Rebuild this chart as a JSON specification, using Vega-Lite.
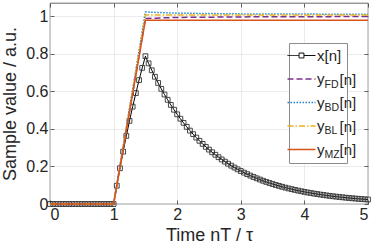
{
  "$schema": "https://vega.github.io/schema/vega-lite/v6.json",
  "width": 318,
  "height": 201,
  "autosize": {"type": "none"},
  "padding": {"left": 50, "top": 3, "right": 6, "bottom": 45},
  "config": {
    "font": "Liberation Sans",
    "view": {"stroke": "#262626", "strokeWidth": 0.7},
    "axis": {
      "labelColor": "#262626", "titleColor": "#262626", "tickColor": "#262626",
      "domain": false, "gridColor": "#e3e3e3", "gridWidth": 0.7,
      "labelFont": "Liberation Sans", "titleFont": "Liberation Sans",
      "labelFontSize": 16, "titleFontSize": 18, "titleFontWeight": "normal",
      "tickSize": -4, "tickWidth": 0.7
    }
  },
  "datasets": {
    "d": [
      {"s": "x", "t": 0, "v": 0}, {"s": "x", "t": 0.05, "v": 0}, {"s": "x", "t": 0.1, "v": 0}, {"s": "x", "t": 0.15, "v": 0},
      {"s": "x", "t": 0.2, "v": 0}, {"s": "x", "t": 0.25, "v": 0}, {"s": "x", "t": 0.3, "v": 0}, {"s": "x", "t": 0.35, "v": 0},
      {"s": "x", "t": 0.4, "v": 0}, {"s": "x", "t": 0.45, "v": 0}, {"s": "x", "t": 0.5, "v": 0}, {"s": "x", "t": 0.55, "v": 0},
      {"s": "x", "t": 0.6, "v": 0}, {"s": "x", "t": 0.65, "v": 0}, {"s": "x", "t": 0.7, "v": 0}, {"s": "x", "t": 0.75, "v": 0},
      {"s": "x", "t": 0.8, "v": 0}, {"s": "x", "t": 0.85, "v": 0}, {"s": "x", "t": 0.9, "v": 0}, {"s": "x", "t": 0.95, "v": 0},
      {"s": "x", "t": 1, "v": 0},
      {"s": "x", "t": 1.05, "v": 0.0975}, {"s": "x", "t": 1.1, "v": 0.1903}, {"s": "x", "t": 1.15, "v": 0.2786},
      {"s": "x", "t": 1.2, "v": 0.3625}, {"s": "x", "t": 1.25, "v": 0.4424}, {"s": "x", "t": 1.3, "v": 0.5184},
      {"s": "x", "t": 1.35, "v": 0.5906}, {"s": "x", "t": 1.4, "v": 0.6594}, {"s": "x", "t": 1.45, "v": 0.7247},
      {"s": "x", "t": 1.5, "v": 0.7869},
      {"s": "x", "t": 1.55, "v": 0.7486}, {"s": "x", "t": 1.6, "v": 0.7121}, {"s": "x", "t": 1.65, "v": 0.6773},
      {"s": "x", "t": 1.7, "v": 0.6443}, {"s": "x", "t": 1.75, "v": 0.6129}, {"s": "x", "t": 1.8, "v": 0.583},
      {"s": "x", "t": 1.85, "v": 0.5546}, {"s": "x", "t": 1.9, "v": 0.5275}, {"s": "x", "t": 1.95, "v": 0.5018},
      {"s": "x", "t": 2, "v": 0.4773}, {"s": "x", "t": 2.05, "v": 0.454}, {"s": "x", "t": 2.1, "v": 0.4319},
      {"s": "x", "t": 2.15, "v": 0.4108}, {"s": "x", "t": 2.2, "v": 0.3908}, {"s": "x", "t": 2.25, "v": 0.3717},
      {"s": "x", "t": 2.3, "v": 0.3536}, {"s": "x", "t": 2.35, "v": 0.3364}, {"s": "x", "t": 2.4, "v": 0.32},
      {"s": "x", "t": 2.45, "v": 0.3043}, {"s": "x", "t": 2.5, "v": 0.2895}, {"s": "x", "t": 2.55, "v": 0.2754},
      {"s": "x", "t": 2.6, "v": 0.262}, {"s": "x", "t": 2.65, "v": 0.2492}, {"s": "x", "t": 2.7, "v": 0.237},
      {"s": "x", "t": 2.75, "v": 0.2255}, {"s": "x", "t": 2.8, "v": 0.2145}, {"s": "x", "t": 2.85, "v": 0.204},
      {"s": "x", "t": 2.9, "v": 0.1941}, {"s": "x", "t": 2.95, "v": 0.1846}, {"s": "x", "t": 3, "v": 0.1756},
      {"s": "x", "t": 3.05, "v": 0.167}, {"s": "x", "t": 3.1, "v": 0.1589}, {"s": "x", "t": 3.15, "v": 0.1511},
      {"s": "x", "t": 3.2, "v": 0.1438}, {"s": "x", "t": 3.25, "v": 0.1368}, {"s": "x", "t": 3.3, "v": 0.1301},
      {"s": "x", "t": 3.35, "v": 0.1237}, {"s": "x", "t": 3.4, "v": 0.1177}, {"s": "x", "t": 3.45, "v": 0.112},
      {"s": "x", "t": 3.5, "v": 0.1065}, {"s": "x", "t": 3.55, "v": 0.1013}, {"s": "x", "t": 3.6, "v": 0.0964},
      {"s": "x", "t": 3.65, "v": 0.0917}, {"s": "x", "t": 3.7, "v": 0.0872}, {"s": "x", "t": 3.75, "v": 0.0829},
      {"s": "x", "t": 3.8, "v": 0.0789}, {"s": "x", "t": 3.85, "v": 0.0751}, {"s": "x", "t": 3.9, "v": 0.0714},
      {"s": "x", "t": 3.95, "v": 0.0679}, {"s": "x", "t": 4, "v": 0.0646}, {"s": "x", "t": 4.05, "v": 0.0615},
      {"s": "x", "t": 4.1, "v": 0.0585}, {"s": "x", "t": 4.15, "v": 0.0556}, {"s": "x", "t": 4.2, "v": 0.0529},
      {"s": "x", "t": 4.25, "v": 0.0503}, {"s": "x", "t": 4.3, "v": 0.0479}, {"s": "x", "t": 4.35, "v": 0.0455},
      {"s": "x", "t": 4.4, "v": 0.0433}, {"s": "x", "t": 4.45, "v": 0.0412}, {"s": "x", "t": 4.5, "v": 0.0392},
      {"s": "x", "t": 4.55, "v": 0.0373}, {"s": "x", "t": 4.6, "v": 0.0355}, {"s": "x", "t": 4.65, "v": 0.0337},
      {"s": "x", "t": 4.7, "v": 0.0321}, {"s": "x", "t": 4.75, "v": 0.0305}, {"s": "x", "t": 4.8, "v": 0.029},
      {"s": "x", "t": 4.85, "v": 0.0276}, {"s": "x", "t": 4.9, "v": 0.0263}, {"s": "x", "t": 4.95, "v": 0.025},
      {"s": "x", "t": 5, "v": 0.0238},
      {"s": "FD", "t": 0, "v": 0}, {"s": "FD", "t": 1, "v": 0}, {"s": "FD", "t": 1.5, "v": 0.988},
      {"s": "FD", "t": 2, "v": 0.993}, {"s": "FD", "t": 3, "v": 0.996}, {"s": "FD", "t": 5, "v": 0.998},
      {"s": "BD", "t": 0, "v": 0}, {"s": "BD", "t": 1, "v": 0}, {"s": "BD", "t": 1.5, "v": 1.022},
      {"s": "BD", "t": 2, "v": 1.016}, {"s": "BD", "t": 3, "v": 1.012}, {"s": "BD", "t": 5, "v": 1.01},
      {"s": "BL", "t": 0, "v": 0}, {"s": "BL", "t": 1, "v": 0}, {"s": "BL", "t": 1.5, "v": 1.006}, {"s": "BL", "t": 5, "v": 1.006},
      {"s": "MZ", "t": 0, "v": 0}, {"s": "MZ", "t": 1, "v": 0}, {"s": "MZ", "t": 1.5, "v": 0.978}, {"s": "MZ", "t": 5, "v": 0.978}
    ]
  },
  "data": {"name": "d"},
  "resolve": {"axis": {"x": "independent", "y": "independent"}},
  "layer": [
    {
      "transform": [{"filter": "datum.s === 'x'"}],
      "mark": {"type": "line", "stroke": "#000000", "strokeWidth": 1},
      "encoding": {
        "x": {"field": "t", "type": "quantitative", "scale": {"domain": [0, 5], "nice": false, "zero": false},
              "axis": {"title": "Time nT / τ", "values": [0, 1, 2, 3, 4, 5], "labelPadding": 6, "titlePadding": 4, "grid": true}},
        "y": {"field": "v", "type": "quantitative", "scale": {"domain": [0, 1.07], "nice": false},
              "axis": {"title": "Sample value / a.u.", "values": [0, 0.2, 0.4, 0.6, 0.8, 1], "format": "~g", "labelPadding": 6, "titlePadding": 6, "grid": true}}
      }
    },
    {
      "transform": [{"filter": "datum.s === 'x'"}],
      "mark": {"type": "point", "shape": "square", "filled": false, "stroke": "#333333", "strokeWidth": 0.9, "size": 23, "opacity": 1},
      "encoding": {
        "x": {"field": "t", "type": "quantitative",
              "axis": {"orient": "top", "labels": false, "title": null, "grid": false, "values": [0, 1, 2, 3, 4, 5]}},
        "y": {"field": "v", "type": "quantitative",
              "axis": {"orient": "right", "labels": false, "title": null, "grid": false, "values": [0, 0.2, 0.4, 0.6, 0.8, 1]}}
      }
    },
    {
      "transform": [{"filter": "datum.s !== 'x'"}],
      "mark": {"type": "line", "strokeWidth": 1.5},
      "encoding": {
        "x": {"field": "t", "type": "quantitative", "axis": null},
        "y": {"field": "v", "type": "quantitative", "axis": null},
        "color": {
          "field": "s", "type": "nominal",
          "scale": {"domain": ["x", "FD", "BD", "BL", "MZ"], "range": ["#000000", "#7E2F8E", "#1f86d6", "#EDB120", "#D95319"]},
          "legend": {
            "orient": "none", "legendX": 239, "legendY": 40, "zindex": 1, "title": null, "direction": "vertical",
            "fillColor": "white", "strokeColor": "#8c8c8c", "padding": 5, "rowPadding": 7.5,
            "symbolSize": 196, "symbolStrokeWidth": 1.5, "labelOffset": 8,
            "labelFont": "Liberation Sans", "labelFontSize": 15, "labelColor": "#262626",
            "labelExpr": "datum.label === 'x' ? 'x[n]\u2002\u2002' : 'y'",
            "encode": {
              "symbols": {
                "update": {
                  "shape": {"signal": "datum.value === 'x' ? 'M-2,0H-0.35M0.35,0H2M-0.35,-0.35H0.35V0.35H-0.35Z' : 'M-2,0H2'"},
                  "strokeDash": {"signal": "datum.value === 'FD' ? [6,3] : datum.value === 'BD' ? [1.5,1.5] : datum.value === 'BL' ? [6,2,1.5,2] : [1,0]"},
                  "strokeWidth": {"signal": "datum.value === 'x' ? 1 : 1.5"},
                  "fill": {"value": "transparent"}
                }
              }
            }
          }
        },
        "strokeDash": {
          "field": "s", "type": "nominal", "legend": null,
          "scale": {"domain": ["x", "FD", "BD", "BL", "MZ"], "range": [[1, 0], [6, 3], [1.5, 1.5], [6, 2, 1.5, 2], [1, 0]]}
        },
        "opacity": {
          "field": "s", "type": "nominal",
          "scale": {"domain": ["x", "FD", "BD", "BL", "MZ", "zz"], "range": [1, 1]},
          "legend": {
            "orient": "none", "legendX": 258.5, "legendY": 50.4, "zindex": 2, "title": null, "direction": "vertical",
            "values": ["x", "FD", "BD", "BL", "MZ"], "padding": 0, "rowPadding": 9.3,
            "symbolSize": 196, "symbolStrokeWidth": 1.5, "labelOffset": 0,
            "labelFont": "Liberation Sans", "labelFontSize": 10.5, "labelColor": "#262626",
            "labelExpr": "datum.label === 'x' ? '' : datum.label",
            "encode": {"symbols": {"update": {"opacity": {"value": 0}, "stroke": {"value": "transparent"}, "fill": {"value": "transparent"}}}}
          }
        },
        "strokeWidth": {
          "field": "s", "type": "nominal",
          "scale": {"type": "point", "domain": ["x", "FD", "BD", "BL", "MZ", "zz", "zzz"], "range": [1.5, 1.5]},
          "legend": {
            "orient": "none", "legendX": 273.5, "legendY": 45, "zindex": 3, "title": null, "direction": "vertical",
            "values": ["x", "FD", "BD", "BL", "MZ"], "padding": 0, "rowPadding": 7.5,
            "symbolSize": 196, "labelOffset": 0,
            "labelFont": "Liberation Sans", "labelFontSize": 15, "labelColor": "#262626",
            "labelExpr": "datum.label === 'x' ? '' : '[n]'",
            "encode": {"symbols": {"update": {"opacity": {"value": 0}, "strokeWidth": {"value": 1.5}, "stroke": {"value": "transparent"}, "fill": {"value": "transparent"}}}}
          }
        }
      }
    }
  ]
}
